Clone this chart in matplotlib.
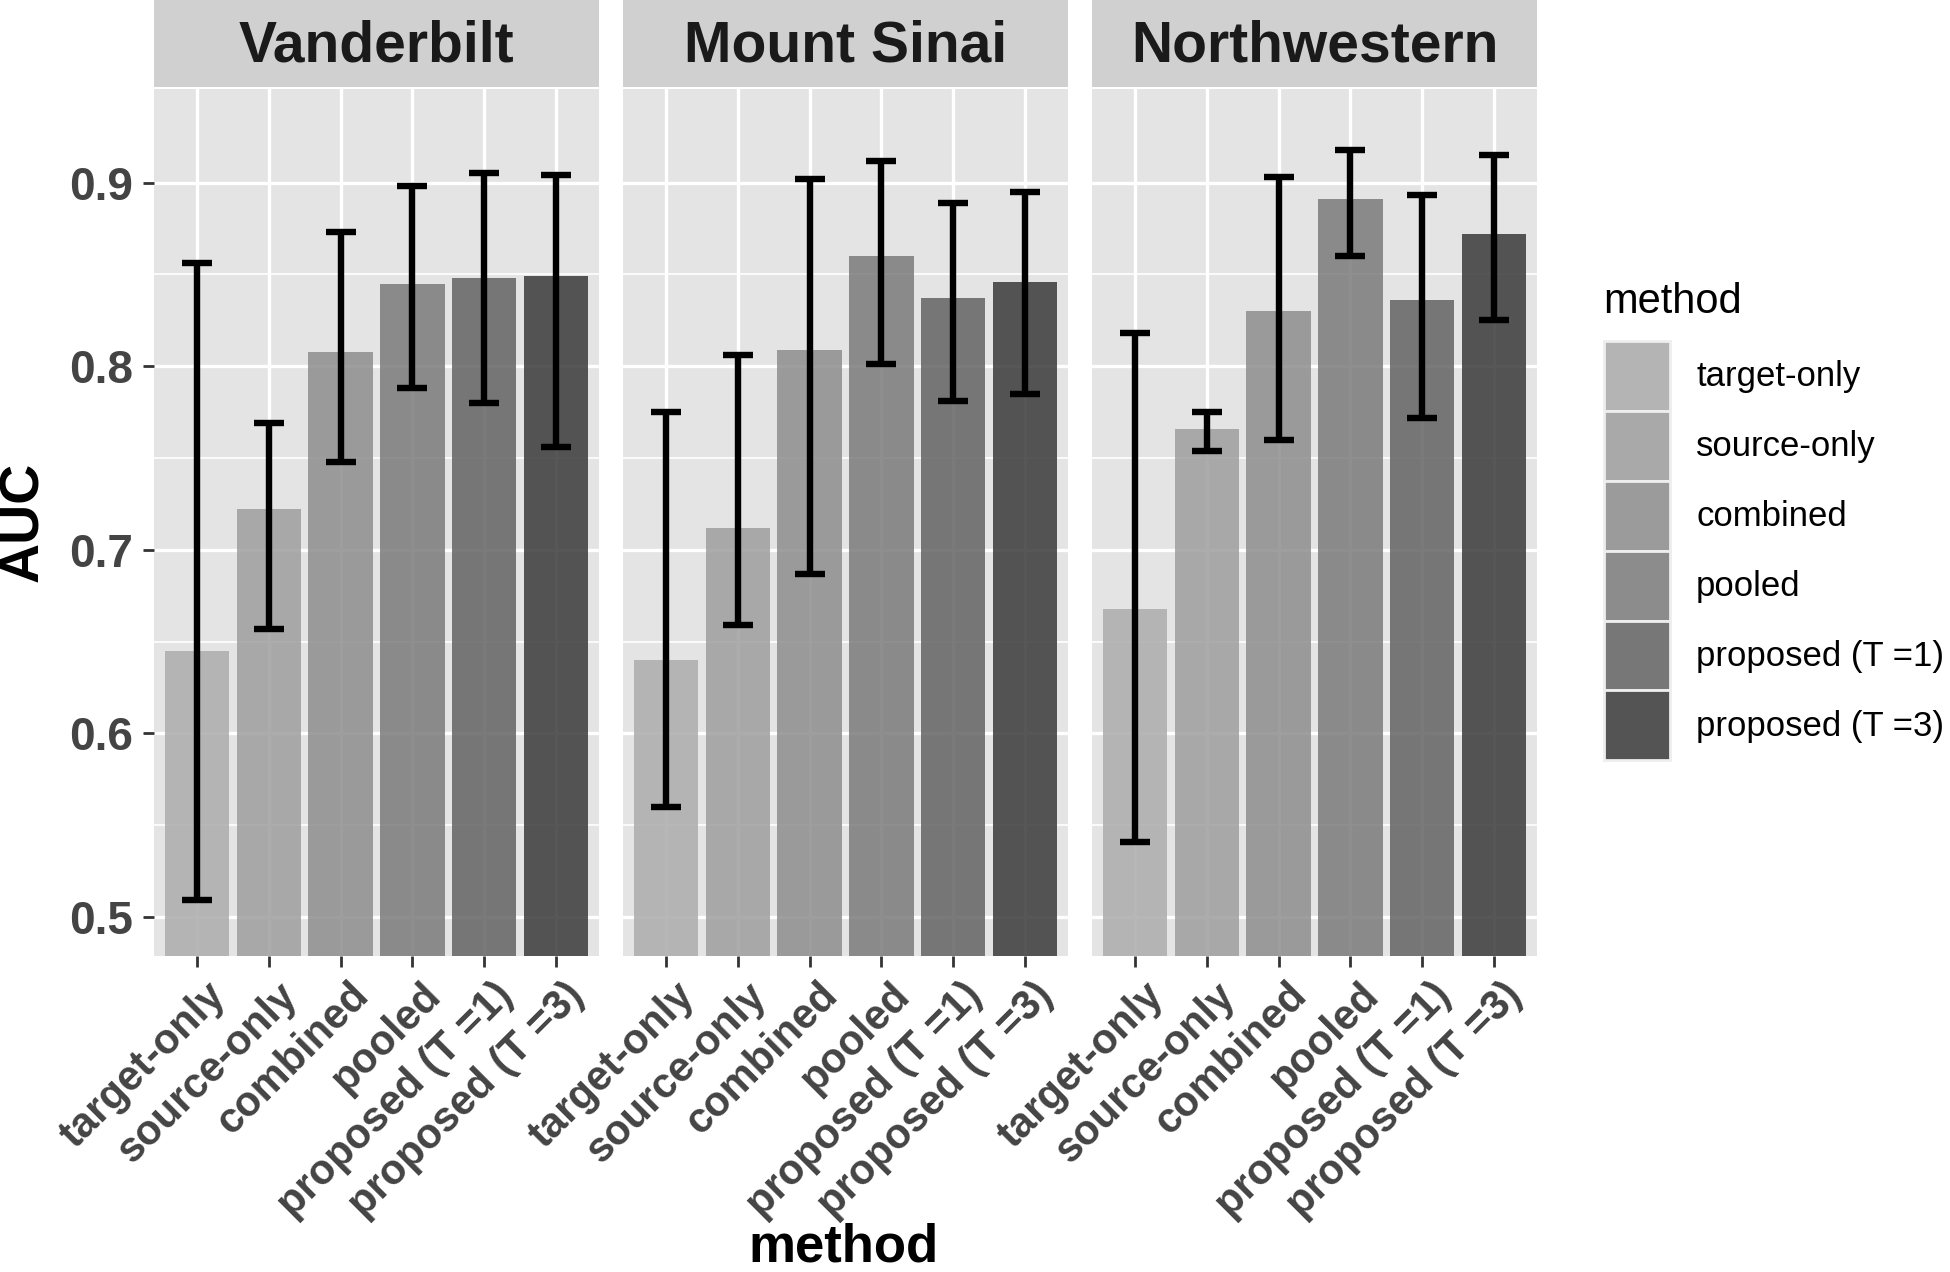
import matplotlib
matplotlib.use('Agg')
import matplotlib.pyplot as plt
from matplotlib.patches import Patch
from matplotlib.transforms import ScaledTranslation

plt.rcParams['font.family'] = ['Liberation Sans', 'DejaVu Sans']

# ==============================
# DATA
# ==============================

sites = ['Vanderbilt', 'Mount Sinai', 'Northwestern']
methods = ['target-only', 'source-only', 'combined', 'pooled',
           'proposed (T =1)', 'proposed (T =3)']

auc_vanderbilt = [0.645, 0.722, 0.808, 0.845, 0.848, 0.849]
low_vanderbilt = [0.509, 0.657, 0.748, 0.788, 0.780, 0.756]
high_vanderbilt = [0.856, 0.769, 0.873, 0.898, 0.905, 0.904]

auc_sinai = [0.640, 0.712, 0.809, 0.860, 0.837, 0.846]
low_sinai = [0.560, 0.659, 0.687, 0.801, 0.781, 0.785]
high_sinai = [0.775, 0.806, 0.902, 0.912, 0.889, 0.895]

auc_northwestern = [0.668, 0.766, 0.830, 0.891, 0.836, 0.872]
low_northwestern = [0.541, 0.754, 0.760, 0.860, 0.772, 0.825]
high_northwestern = [0.818, 0.775, 0.903, 0.918, 0.893, 0.915]

auc = [auc_vanderbilt, auc_sinai, auc_northwestern]
low = [low_vanderbilt, low_sinai, low_northwestern]
high = [high_vanderbilt, high_sinai, high_northwestern]

# bar fills (drawn with alpha over the grey panel), legend fills opaque
bar_fills = ['#acacac', '#9f9f9f', '#8e8e8e', '#7c7c7c', '#646464', '#3b3b3b']
key_fills = ['#b4b4b4', '#a9a9a9', '#9b9b9b', '#8c8c8c', '#777777', '#545454']

# ==============================
# FIGURE
# ==============================

W, H = 1950, 1272
fig = plt.figure(figsize=(W / 100, H / 100), dpi=100)

panel_left = [154, 623, 1092]
panel_w = 445
panel_top = 89
panel_bot = 956
strip_top = 0
strip_bot = 87

x = list(range(1, 7))

for i in range(3):
    ax = fig.add_axes([panel_left[i] / W, 1 - panel_bot / H,
                       panel_w / W, (panel_bot - panel_top) / H])
    ax.set_facecolor('#e4e4e4')
    for s in ax.spines.values():
        s.set_visible(False)

    err_lo = [a - l for a, l in zip(auc[i], low[i])]
    err_hi = [h - a for a, h in zip(auc[i], high[i])]

    ax.bar(x, auc[i], width=0.9, color=bar_fills, alpha=0.86, zorder=2)
    ax.errorbar(x, auc[i], yerr=[err_lo, err_hi], fmt='none', ecolor='black',
                elinewidth=4.6, capsize=10.5, capthick=4.6, zorder=3)

    ax.set_xlim(0.4, 6.6)
    ax.set_ylim(0.4787, 0.951)
    ax.set_yticks([0.5, 0.6, 0.7, 0.8, 0.9])
    ax.set_yticks([0.55, 0.65, 0.75, 0.85], minor=True)
    ax.set_xticks(x)
    ax.grid(True, which='major', color='white', linewidth=2.4, zorder=0)
    ax.grid(True, which='minor', axis='y', color='white', linewidth=1.2, zorder=0)
    ax.set_axisbelow(True)

    ax.set_xticklabels(methods, rotation=45, ha='right', va='top',
                       rotation_mode='anchor', fontsize=30, fontweight='bold',
                       color='#444444')
    ax.tick_params(axis='x', length=8, width=2, color='#333333', pad=6)
    for lab in ax.get_xticklabels():
        lab.set_transform(lab.get_transform() + ScaledTranslation(0.08, 0, fig.dpi_scale_trans))

    ax.tick_params(axis='y', which='minor', length=0)
    if i == 0:
        ax.set_yticklabels(['0.5', '0.6', '0.7', '0.8', '0.9'],
                           fontsize=33, fontweight='bold', color='#444444')
        ax.tick_params(axis='y', which='major', length=8, width=2,
                       color='#333333', pad=7)
    else:
        ax.tick_params(axis='y', which='major', length=0, labelleft=False)

    # facet strip
    sx = fig.add_axes([panel_left[i] / W, 1 - strip_bot / H,
                       panel_w / W, (strip_bot - strip_top) / H])
    sx.set_facecolor('#d0d0d0')
    sx.set_xticks([])
    sx.set_yticks([])
    for s in sx.spines.values():
        s.set_visible(False)
    sx.text(0.5, 0.46, sites[i], transform=sx.transAxes, ha='center', va='center',
            fontsize=41, fontweight='bold', color='#1a1a1a')

# axis titles
fig.text(24 / W, 1 - 522 / H, 'AUC', rotation=90, ha='center', va='center',
         fontsize=40, fontweight='bold', color='black')
fig.text(843 / W, 10 / H, 'method', ha='center', va='baseline',
         fontsize=38, fontweight='bold', color='black')

# ==============================
# LEGEND
# ==============================

fig.text(1603 / W, 1 - 313 / H, 'method', ha='left', va='baseline',
         fontsize=30, color='black')

handles = [Patch(facecolor=c, edgecolor='#eeeeee', linewidth=2) for c in key_fills]
leg = fig.legend(handles, methods, loc='upper left',
                 bbox_to_anchor=(1604 / W, 1 - 341 / H), frameon=False,
                 fontsize=25, handlelength=1.9, handleheight=2.72,
                 labelspacing=0.0, handletextpad=0.75,
                 borderpad=0, borderaxespad=0)

plt.savefig('out.png', dpi=100)
